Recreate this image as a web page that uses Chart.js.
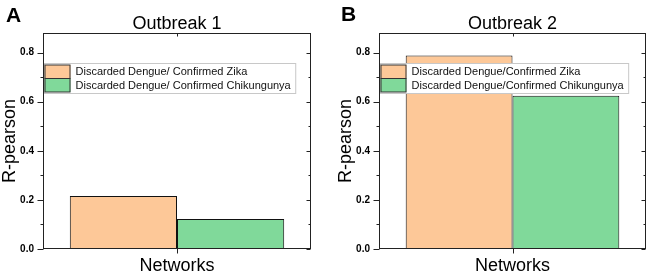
<!DOCTYPE html>
<html>
<head>
<meta charset="utf-8">
<script src="https://cdn.jsdelivr.net/npm/chart.js@4"></script>
<style>
  body { margin: 0; background: #fff; }
  #wrap { position: relative; width: 650px; height: 277px; overflow: hidden; }
  canvas { position: absolute; top: 0; }
  .tag { position: absolute; font: bold 21px "Liberation Sans", Arial, sans-serif; color: #000; }
</style>
</head>
<body>
<div id="wrap">
  <canvas id="chartA" width="325" height="277" style="left:0"></canvas>
  <canvas id="chartB" width="314" height="277" style="left:336px"></canvas>
  <div class="tag" style="left:6px;top:3px">A</div>
  <div class="tag" style="left:341px;top:2px">B</div>
</div>
<script>
// values
var categories = ['Networks'];
var panelTitles = ['Outbreak 1', 'Outbreak 2'];
var zikaLabels = ['Discarded Dengue/ Confirmed Zika', 'Discarded Dengue/Confirmed Zika'];
var chikLabels = ['Discarded Dengue/ Confirmed Chikungunya', 'Discarded Dengue/Confirmed Chikungunya'];
var zikaValues = [0.216, 0.788];
var chikValues = [0.122, 0.624];
var yTicks = [0, 0.2, 0.4, 0.6, 0.8];

var orange = '#fdc898';
var green = '#80d99a';
var font = '"Liberation Sans", Arial, sans-serif';

// frame box, mirrored ticks, title and inset legend
var framePlugin = {
  id: 'frame',
  afterDatasetsDraw: function (chart) {
    var ctx = chart.ctx;
    var a = chart.chartArea;
    var ys = chart.scales.y;
    var xs = chart.scales.x;
    var L = Math.round(a.left) + 0.5, R = Math.round(a.right) - 0.5;
    var T = Math.round(a.top) + 0.5, B = Math.round(a.bottom) - 0.5;

    // legend
    var ds = chart.data.datasets;
    ctx.save();
    ctx.font = '11px ' + font;
    var w = 0;
    ds.forEach(function (d) { w = Math.max(w, ctx.measureText(d.label).width); });
    var lx = L + 1, ly = T + 30;
    var sw = 26, rh = 13.5;
    ctx.fillStyle = '#fff';
    ctx.fillRect(lx, ly, sw + 6 + w + 4, rh * ds.length + 3);
    ctx.strokeStyle = '#c8c8c8';
    ctx.lineWidth = 1;
    ctx.strokeRect(lx, ly, sw + 6 + w + 4, rh * ds.length + 3);
    ds.forEach(function (d, i) {
      var y0 = ly + 1.5 + i * rh;
      ctx.fillStyle = d.backgroundColor;
      ctx.fillRect(lx, y0, sw, rh);
      ctx.strokeStyle = '#333';
      ctx.strokeRect(lx + 0.5, y0, sw - 1, rh);
      ctx.fillStyle = '#111';
      ctx.textBaseline = 'middle';
      ctx.textAlign = 'left';
      ctx.fillText(d.label, lx + sw + 5, y0 + rh / 2 + 0.5);
    });
    ctx.restore();

    ctx.save();
    ctx.strokeStyle = '#222';
    ctx.lineWidth = 1;
    ctx.strokeRect(L, T, R - L, B - T);
    ctx.beginPath();
    for (var v = 0; v <= 0.85; v += 0.1) {
      var y = Math.round(ys.getPixelForValue(v)) + 0.5;
      var major = Math.round(v * 10) % 2 === 0;
      ctx.moveTo(L, y); ctx.lineTo(L - (major ? 6 : 3), y);
      ctx.moveTo(R, y); ctx.lineTo(R - (major ? 4 : 2), y);
    }
    var cx = Math.round(xs.getPixelForValue(0)) + 0.5;
    ctx.moveTo(cx, T); ctx.lineTo(cx, T + 3);
    ctx.moveTo(cx, B); ctx.lineTo(cx, B + 5);
    ctx.stroke();

    // panel title centred over the plot box
    ctx.fillStyle = '#000';
    ctx.font = '18px ' + font;
    ctx.textAlign = 'center';
    ctx.textBaseline = 'middle';
    ctx.fillText(chart.options.plugins.panelTitle, (a.left + a.right) / 2, 24);
    ctx.restore();
  }
};

function makeChart(id, k, yWidth, padRight) {
  return new Chart(document.getElementById(id), {
    type: 'bar',
    data: {
      labels: categories,
      datasets: [
        { label: zikaLabels[k], data: [zikaValues[k]], backgroundColor: orange,
          borderColor: '#111', borderWidth: 1, borderSkipped: false },
        { label: chikLabels[k], data: [chikValues[k]], backgroundColor: green,
          borderColor: '#111', borderWidth: 1, borderSkipped: false }
      ]
    },
    options: {
      responsive: false,
      animation: false,
      devicePixelRatio: 1,
      layout: { padding: { top: 33, right: padRight, left: 0, bottom: 0 } },
      datasets: { bar: { categoryPercentage: 0.8, barPercentage: 1.0 } },
      plugins: {
        legend: { display: false },
        title: { display: false },
        tooltip: { enabled: false },
        panelTitle: panelTitles[k]
      },
      scales: {
        x: {
          grid: { display: false, drawTicks: false },
          border: { display: false },
          ticks: { display: false },
          title: { display: true, text: 'Networks', color: '#000',
                   font: { family: font, size: 18, lineHeight: 1 }, padding: { top: 0, bottom: 2 } },
          afterFit: function (s) { s.height = 28; }
        },
        y: {
          min: 0,
          max: 0.88,
          grid: { display: false, drawTicks: false },
          border: { display: false },
          afterBuildTicks: function (s) { s.ticks = yTicks.map(function (v) { return { value: v }; }); },
          ticks: {
            padding: 9,
            color: '#000',
            font: { family: font, size: 10, weight: 'bold' },
            callback: function (v) { return v.toFixed(1); }
          },
          title: { display: true, text: 'R-pearson', color: '#000',
                   font: { family: font, size: 18, lineHeight: 1 }, padding: { top: 1, bottom: 0 } },
          afterFit: function (s) { s.width = yWidth; }
        }
      }
    },
    plugins: [framePlugin]
  });
}

makeChart('chartA', 0, 43, 14);
makeChart('chartB', 1, 43, 4);
</script>
</body>
</html>
